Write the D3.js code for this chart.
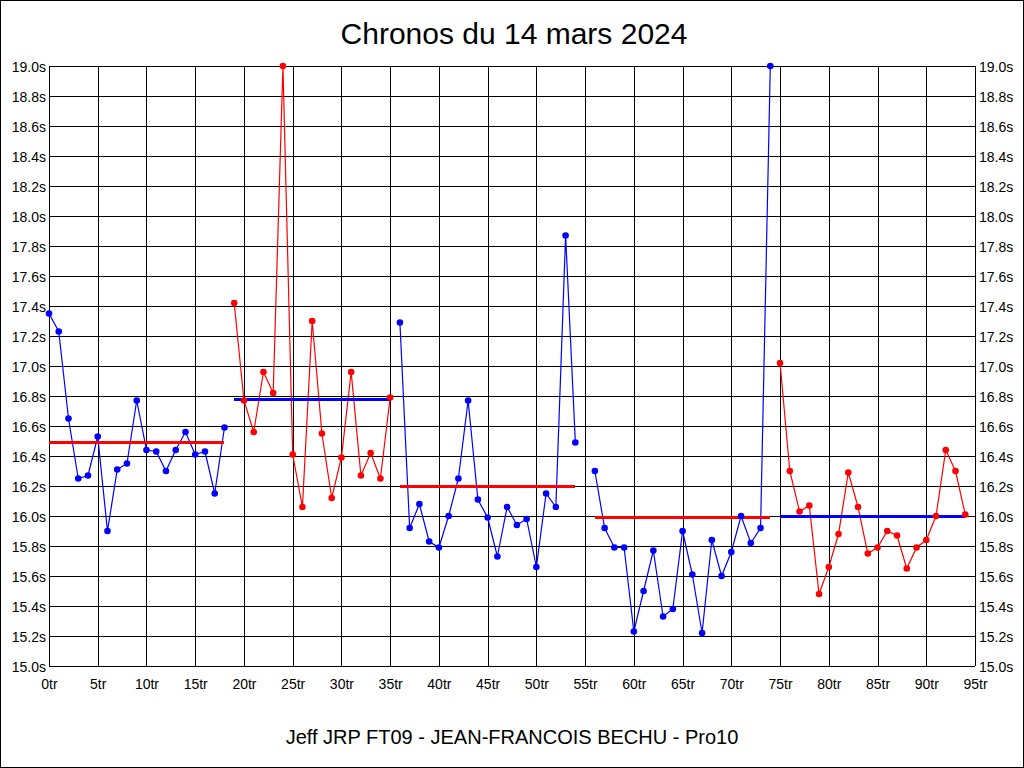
<!DOCTYPE html>
<html>
<head>
<meta charset="utf-8">
<script src="https://cdn.jsdelivr.net/npm/d3@7"></script>
<style>
  html, body { margin: 0; padding: 0; background: #fff; }
  svg { display: block; }
  text { font-family: "Liberation Sans", Arial, sans-serif; fill: #000; }
</style>
</head>
<body>
<svg id="chart" width="1024" height="768"></svg>
<script>
// ---- data ----
const chartTitle = "Chronos du 14 mars 2024";
const chartSubtitle = "Jeff JRP FT09 - JEAN-FRANCOIS BECHU - Pro10";

// lap index where each run starts
const segmentStart = [0, 19, 36, 56, 75];

// lap times (s) per run
const run1 = [17.35, 17.23, 16.65, 16.25, 16.27, 16.53, 15.90, 16.31, 16.35, 16.77, 16.44, 16.43, 16.30, 16.44, 16.56, 16.41, 16.43, 16.15, 16.59];
const run2 = [17.42, 16.77, 16.56, 16.96, 16.82, 19.00, 16.41, 16.06, 17.30, 16.55, 16.12, 16.39, 16.96, 16.27, 16.42, 16.25, 16.79];
const run3 = [17.29, 15.92, 16.08, 15.83, 15.79, 16.00, 16.25, 16.77, 16.11, 15.99, 15.73, 16.06, 15.94, 15.98, 15.66, 16.15, 16.06, 17.87, 16.49];
const run4 = [16.30, 15.92, 15.79, 15.79, 15.23, 15.50, 15.77, 15.33, 15.38, 15.90, 15.61, 15.22, 15.84, 15.60, 15.76, 16.00, 15.82, 15.92, 19.00];
const run5 = [17.02, 16.30, 16.03, 16.07, 15.48, 15.66, 15.88, 16.29, 16.06, 15.75, 15.79, 15.90, 15.87, 15.65, 15.79, 15.84, 16.00, 16.44, 16.30, 16.01];
const runs = [run1, run2, run3, run4, run5];

// mean lap time per run (s)
const segmentMeans = [16.49, 16.78, 16.20, 15.99, 16.00];

// axis ticks
const xTickValues = d3.range(0, 96, 5);
const xTickLabels = xTickValues.map(v => v + "tr");
const yTickValues = d3.range(0, 21).map(i => +(15 + i * 0.2).toFixed(1));
const yTickLabels = yTickValues.map(v => v.toFixed(1) + "s");

// ---- styles ----
const runColors = ["#0000ff", "#ff0000", "#0000ff", "#0000ff", "#ff0000"];
const meanColors = ["#ff0000", "#0000ff", "#ff0000", "#ff0000", "#0000ff"];

// ---- drawing ----
const W = 1024, H = 768;
const plot = { left: 49, right: 975, top: 66, bottom: 666 };

const svg = d3.select("#chart");

svg.append("rect")
  .attr("x", 0.5).attr("y", 0.5).attr("width", W - 1).attr("height", H - 1)
  .attr("fill", "#fff").attr("stroke", "#000").attr("stroke-width", 1)
  .attr("shape-rendering", "crispEdges");

const x = d3.scaleLinear().domain([0, 95]).range([plot.left, plot.right]);
const y = d3.scaleLinear().domain([15, 19]).range([plot.bottom, plot.top]).clamp(true);

// grid
const grid = svg.append("g").attr("shape-rendering", "crispEdges");
grid.selectAll("line.v").data(xTickValues).enter().append("line")
  .attr("x1", d => Math.round(x(d)) + 0.5).attr("x2", d => Math.round(x(d)) + 0.5)
  .attr("y1", plot.top).attr("y2", plot.bottom)
  .attr("stroke", "#000").attr("stroke-width", 1);
grid.selectAll("line.h").data(yTickValues).enter().append("line")
  .attr("y1", d => Math.round(y(d)) + 0.5).attr("y2", d => Math.round(y(d)) + 0.5)
  .attr("x1", plot.left).attr("x2", plot.right)
  .attr("stroke", "#000").attr("stroke-width", 1);

// axes (labels only)
const yLeft = d3.axisLeft(y).tickValues(yTickValues).tickFormat((d, i) => yTickLabels[i]).tickSize(0).tickPadding(3);
const yRight = d3.axisRight(y).tickValues(yTickValues).tickFormat((d, i) => yTickLabels[i]).tickSize(0).tickPadding(4);
const xBottom = d3.axisBottom(x).tickValues(xTickValues).tickFormat((d, i) => xTickLabels[i]).tickSize(0).tickPadding(13);

function styleAxis(g) {
  g.select(".domain").remove();
  g.selectAll("text").style("font-family", '"Liberation Sans", Arial, sans-serif').style("font-size", "14px").attr("fill", "#000");
}
svg.append("g").attr("transform", `translate(${plot.left},1)`).call(yLeft).call(styleAxis);
svg.append("g").attr("transform", `translate(${plot.right},1)`).call(yRight).call(styleAxis);
svg.append("g").attr("transform", `translate(0,${plot.bottom})`).call(xBottom).call(styleAxis);

// series
const line = d3.line().x(d => x(d.lap)).y(d => y(d.t));
const seriesData = runs.map((r, i) => r.map((t, j) => ({ lap: segmentStart[i] + j, t })));

const linesG = svg.append("g");
seriesData.forEach((pts, i) => {
  linesG.append("path").datum(pts)
    .attr("d", line).attr("fill", "none")
    .attr("stroke", runColors[i]).attr("stroke-width", 1.2);
});

const meansG = svg.append("g").attr("shape-rendering", "crispEdges");
seriesData.forEach((pts, i) => {
  meansG.append("line")
    .attr("x1", x(pts[0].lap)).attr("x2", x(pts[pts.length - 1].lap))
    .attr("y1", y(segmentMeans[i])).attr("y2", y(segmentMeans[i]))
    .attr("stroke", meanColors[i]).attr("stroke-width", 3);
});

const dotsG = svg.append("g");
seriesData.forEach((pts, i) => {
  dotsG.selectAll(null).data(pts).enter().append("circle")
    .attr("cx", d => x(d.lap)).attr("cy", d => y(d.t)).attr("r", 3.3)
    .attr("fill", runColors[i]);
});

// titles
svg.append("text").attr("x", 514).attr("y", 44).attr("text-anchor", "middle")
  .style("font-size", "30px").text(chartTitle);
svg.append("text").attr("x", 512).attr("y", 744).attr("text-anchor", "middle")
  .style("font-size", "20px").text(chartSubtitle);
</script>
</body>
</html>
